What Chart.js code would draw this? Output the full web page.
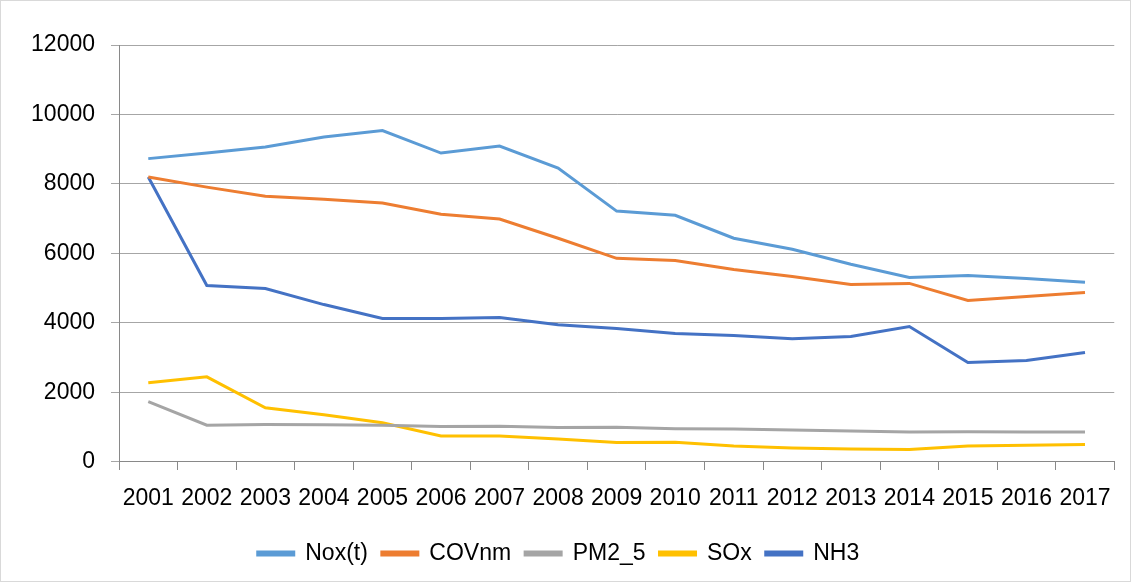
<!DOCTYPE html>
<html>
<head>
<meta charset="utf-8">
<script src="https://cdn.jsdelivr.net/npm/chart.js@4.4.0/dist/chart.umd.min.js"></script>
<style>
  html, body { margin: 0; padding: 0; background: #fff; }
  #wrap { position: absolute; left: 0; top: 0; width: 1129px; height: 580px; border: 1px solid #d9d9d9; }
</style>
</head>
<body>
<div id="wrap"><canvas id="lineChart"></canvas></div>
<script>
var years = ['2001', '2002', '2003', '2004', '2005', '2006', '2007', '2008', '2009',
    '2010', '2011', '2012', '2013', '2014', '2015', '2016', '2017'];
var nox = [8730, 8890, 9065, 9350, 9540, 8890, 9090, 8460, 7220, 7100, 6440, 6120, 5690, 5310, 5370, 5280, 5170];
var covnm = [8200, 7910, 7650, 7560, 7450, 7130, 6990, 6440, 5860, 5800, 5540, 5340, 5110, 5140, 4650, 4760, 4880];
var pm25 = [1740, 1060, 1080, 1070, 1060, 1020, 1030, 990, 1000, 960, 950, 920, 890, 860, 870, 865, 865];
var sox = [2280, 2450, 1560, 1360, 1130, 750, 750, 660, 560, 570, 460, 400, 375, 360, 460, 480, 500];
var nh3 = [8200, 5080, 4990, 4530, 4130, 4130, 4160, 3950, 3840, 3700, 3640, 3550, 3610, 3900, 2860, 2920, 3150];

var font = { family: "'Liberation Sans', Arial, sans-serif", size: 23 };

function serie(label, data, color) {
    return {
        label: label,
        data: data,
        borderColor: color,
        backgroundColor: color,
        borderWidth: 3,
        pointRadius: 0,
        tension: 0,
        fill: false
    };
}

var lineChart = document.getElementById('lineChart');

new Chart(lineChart, {
    type: 'line',
    data: {
        labels: years,
        datasets: [
            serie('Nox(t)', nox, '#5B9BD5'),
            serie('COVnm', covnm, '#ED7D31'),
            serie('PM2_5', pm25, '#A5A5A5'),
            serie('SOx', sox, '#FFC000'),
            serie('NH3', nh3, '#4472C4')
        ]
    },
    options: {
        responsive: true,
        maintainAspectRatio: false,
        animation: false,
        layout: { padding: { left: 0, right: 14, top: 44, bottom: 6 } },
        plugins: {
            tooltip: { enabled: false },
            legend: {
                position: 'bottom',
                labels: {
                    color: '#000',
                    font: { family: font.family, size: 23, lineHeight: 1 },
                    boxWidth: 36,
                    boxHeight: 3,
                    padding: 14
                }
            }
        },
        scales: {
            x: {
                offset: true,
                grid: {
                    offset: true,
                    drawOnChartArea: false,
                    color: '#898989',
                    tickLength: 8,
                    tickColor: '#898989'
                },
                border: { color: '#898989', width: 1 },
                ticks: {
                    color: '#000',
                    font: { family: font.family, size: 23, lineHeight: 0.87 },
                    maxRotation: 0,
                    autoSkip: false,
                    padding: 19
                }
            },
            y: {
                min: 0,
                max: 12000,
                afterFit: function (s) { s.width = 118; },
                grid: {
                    color: '#a6a6a6',
                    tickLength: 8,
                    tickColor: '#a6a6a6'
                },
                border: { color: '#898989', width: 1 },
                ticks: {
                    stepSize: 2000,
                    color: '#000',
                    font: font,
                    padding: 16,
                    callback: function (v) { return String(v); }
                }
            }
        }
    }
});
</script>
</body>
</html>
